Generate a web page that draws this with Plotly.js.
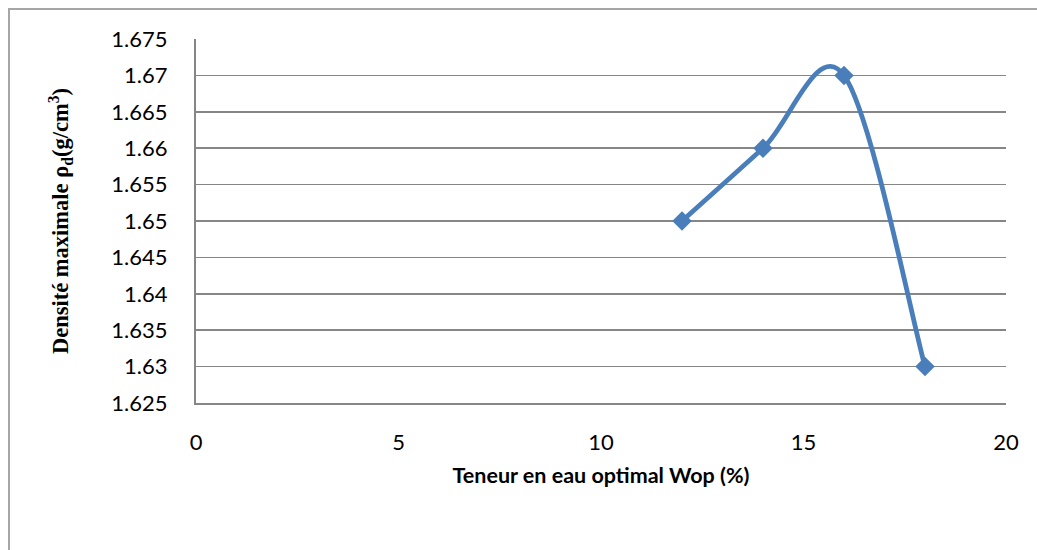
<!DOCTYPE html>
<html>
<head>
<meta charset="utf-8">
<script src="https://cdn.plot.ly/plotly-3.0.1.min.js"></script>
<style>
  html, body { margin: 0; padding: 0; background: #ffffff; overflow: hidden; }
  #frame { position: absolute; left: 8px; top: 8px; width: 1200px; height: 700px;
           border-left: 2px solid #a6a6a6; border-top: 2px solid #a6a6a6; }
  #chart { position: absolute; left: 0; top: 0; width: 1037px; height: 550px; }
</style>
</head>
<body>
<div id="frame"></div>
<div id="chart"></div>
<script>
// Data
const waterContent = [12, 14, 16, 18];          // Teneur en eau optimal Wop (%)
const maxDensity   = [1.65, 1.66, 1.67, 1.63];   // Densité maximale ρd (g/cm³)
const xTickValues  = [0, 5, 10, 15, 20];
const yTickValues  = [1.625, 1.63, 1.635, 1.64, 1.645, 1.65, 1.655, 1.66, 1.665, 1.67, 1.675];
const yTickLabels  = ['1.625', '1.63', '1.635', '1.64', '1.645', '1.65', '1.655', '1.66', '1.665', '1.67', '1.675'];

const lineColor = '#4a7ebb';

// Smoothed line (spreadsheet-style Catmull-Rom Bezier) built from the data,
// drawn in data coordinates so it goes through the library's axes.
function smoothPath(xs, ys) {
  const n = xs.length;
  let p = 'M ' + xs[0] + ',' + ys[0];
  for (let i = 0; i < n - 1; i++) {
    const i0 = Math.max(i - 1, 0), i3 = Math.min(i + 2, n - 1);
    const c1x = xs[i] + (xs[i + 1] - xs[i0]) / 6;
    const c1y = ys[i] + (ys[i + 1] - ys[i0]) / 6;
    const c2x = xs[i + 1] - (xs[i3] - xs[i]) / 6;
    const c2y = ys[i + 1] - (ys[i3] - ys[i]) / 6;
    p += ' C ' + c1x + ',' + c1y + ' ' + c2x + ',' + c2y + ' ' + xs[i + 1] + ',' + ys[i + 1];
  }
  return p;
}

const trace = {
  x: waterContent,
  y: maxDensity,
  type: 'scatter',
  mode: 'markers',
  name: 'ρd',
  marker: { symbol: 'diamond', size: 15, color: lineColor },
  hoverinfo: 'x+y',
  showlegend: false
};

const layout = {
  width: 1037,
  height: 550,
  margin: { l: 196, r: 31, t: 39, b: 147 },
  paper_bgcolor: 'rgba(0,0,0,0)',
  plot_bgcolor: 'rgba(0,0,0,0)',
  font: { family: 'Lato, "Open Sans", sans-serif', color: '#000000' },
  shapes: [{
    type: 'path',
    xref: 'x',
    yref: 'y',
    path: smoothPath(waterContent, maxDensity),
    line: { color: lineColor, width: 4.8 },
    layer: 'between'
  }],
  xaxis: {
    range: [0, 20],
    tickvals: xTickValues,
    ticktext: xTickValues.map(String),
    showgrid: false,
    zeroline: false,
    showline: true,
    linecolor: '#868686',
    linewidth: 2,
    ticks: '',
    ticklabelstandoff: 19,
    tickfont: { family: 'Lato, sans-serif', size: 22, color: '#000000' },
    title: {
      text: '<b>Teneur en eau optimal Wop (%)</b>',
      font: { family: 'Lato, sans-serif', size: 21.5, color: '#000000' },
      standoff: 14
    },
    automargin: false,
    fixedrange: true
  },
  yaxis: {
    range: [1.625, 1.675],
    tickvals: yTickValues,
    ticktext: yTickLabels,
    showgrid: true,
    gridcolor: '#868686',
    gridwidth: 1.5,
    zeroline: false,
    showline: true,
    linecolor: '#868686',
    linewidth: 2,
    ticks: '',
    ticklabelstandoff: 22,
    tickfont: { family: 'Lato, sans-serif', size: 22, color: '#000000' },
    title: {
      text: '<b>Densité maximale ρ<sub>d</sub>(g/cm<sup>3</sup>)</b>',
      font: { family: '"Liberation Serif", "Times New Roman", serif', size: 22.5, color: '#000000' },
      standoff: 36
    },
    automargin: false,
    fixedrange: true
  }
};

Plotly.newPlot('chart', [trace], layout, { displayModeBar: false, staticPlot: true });
</script>
</body>
</html>
